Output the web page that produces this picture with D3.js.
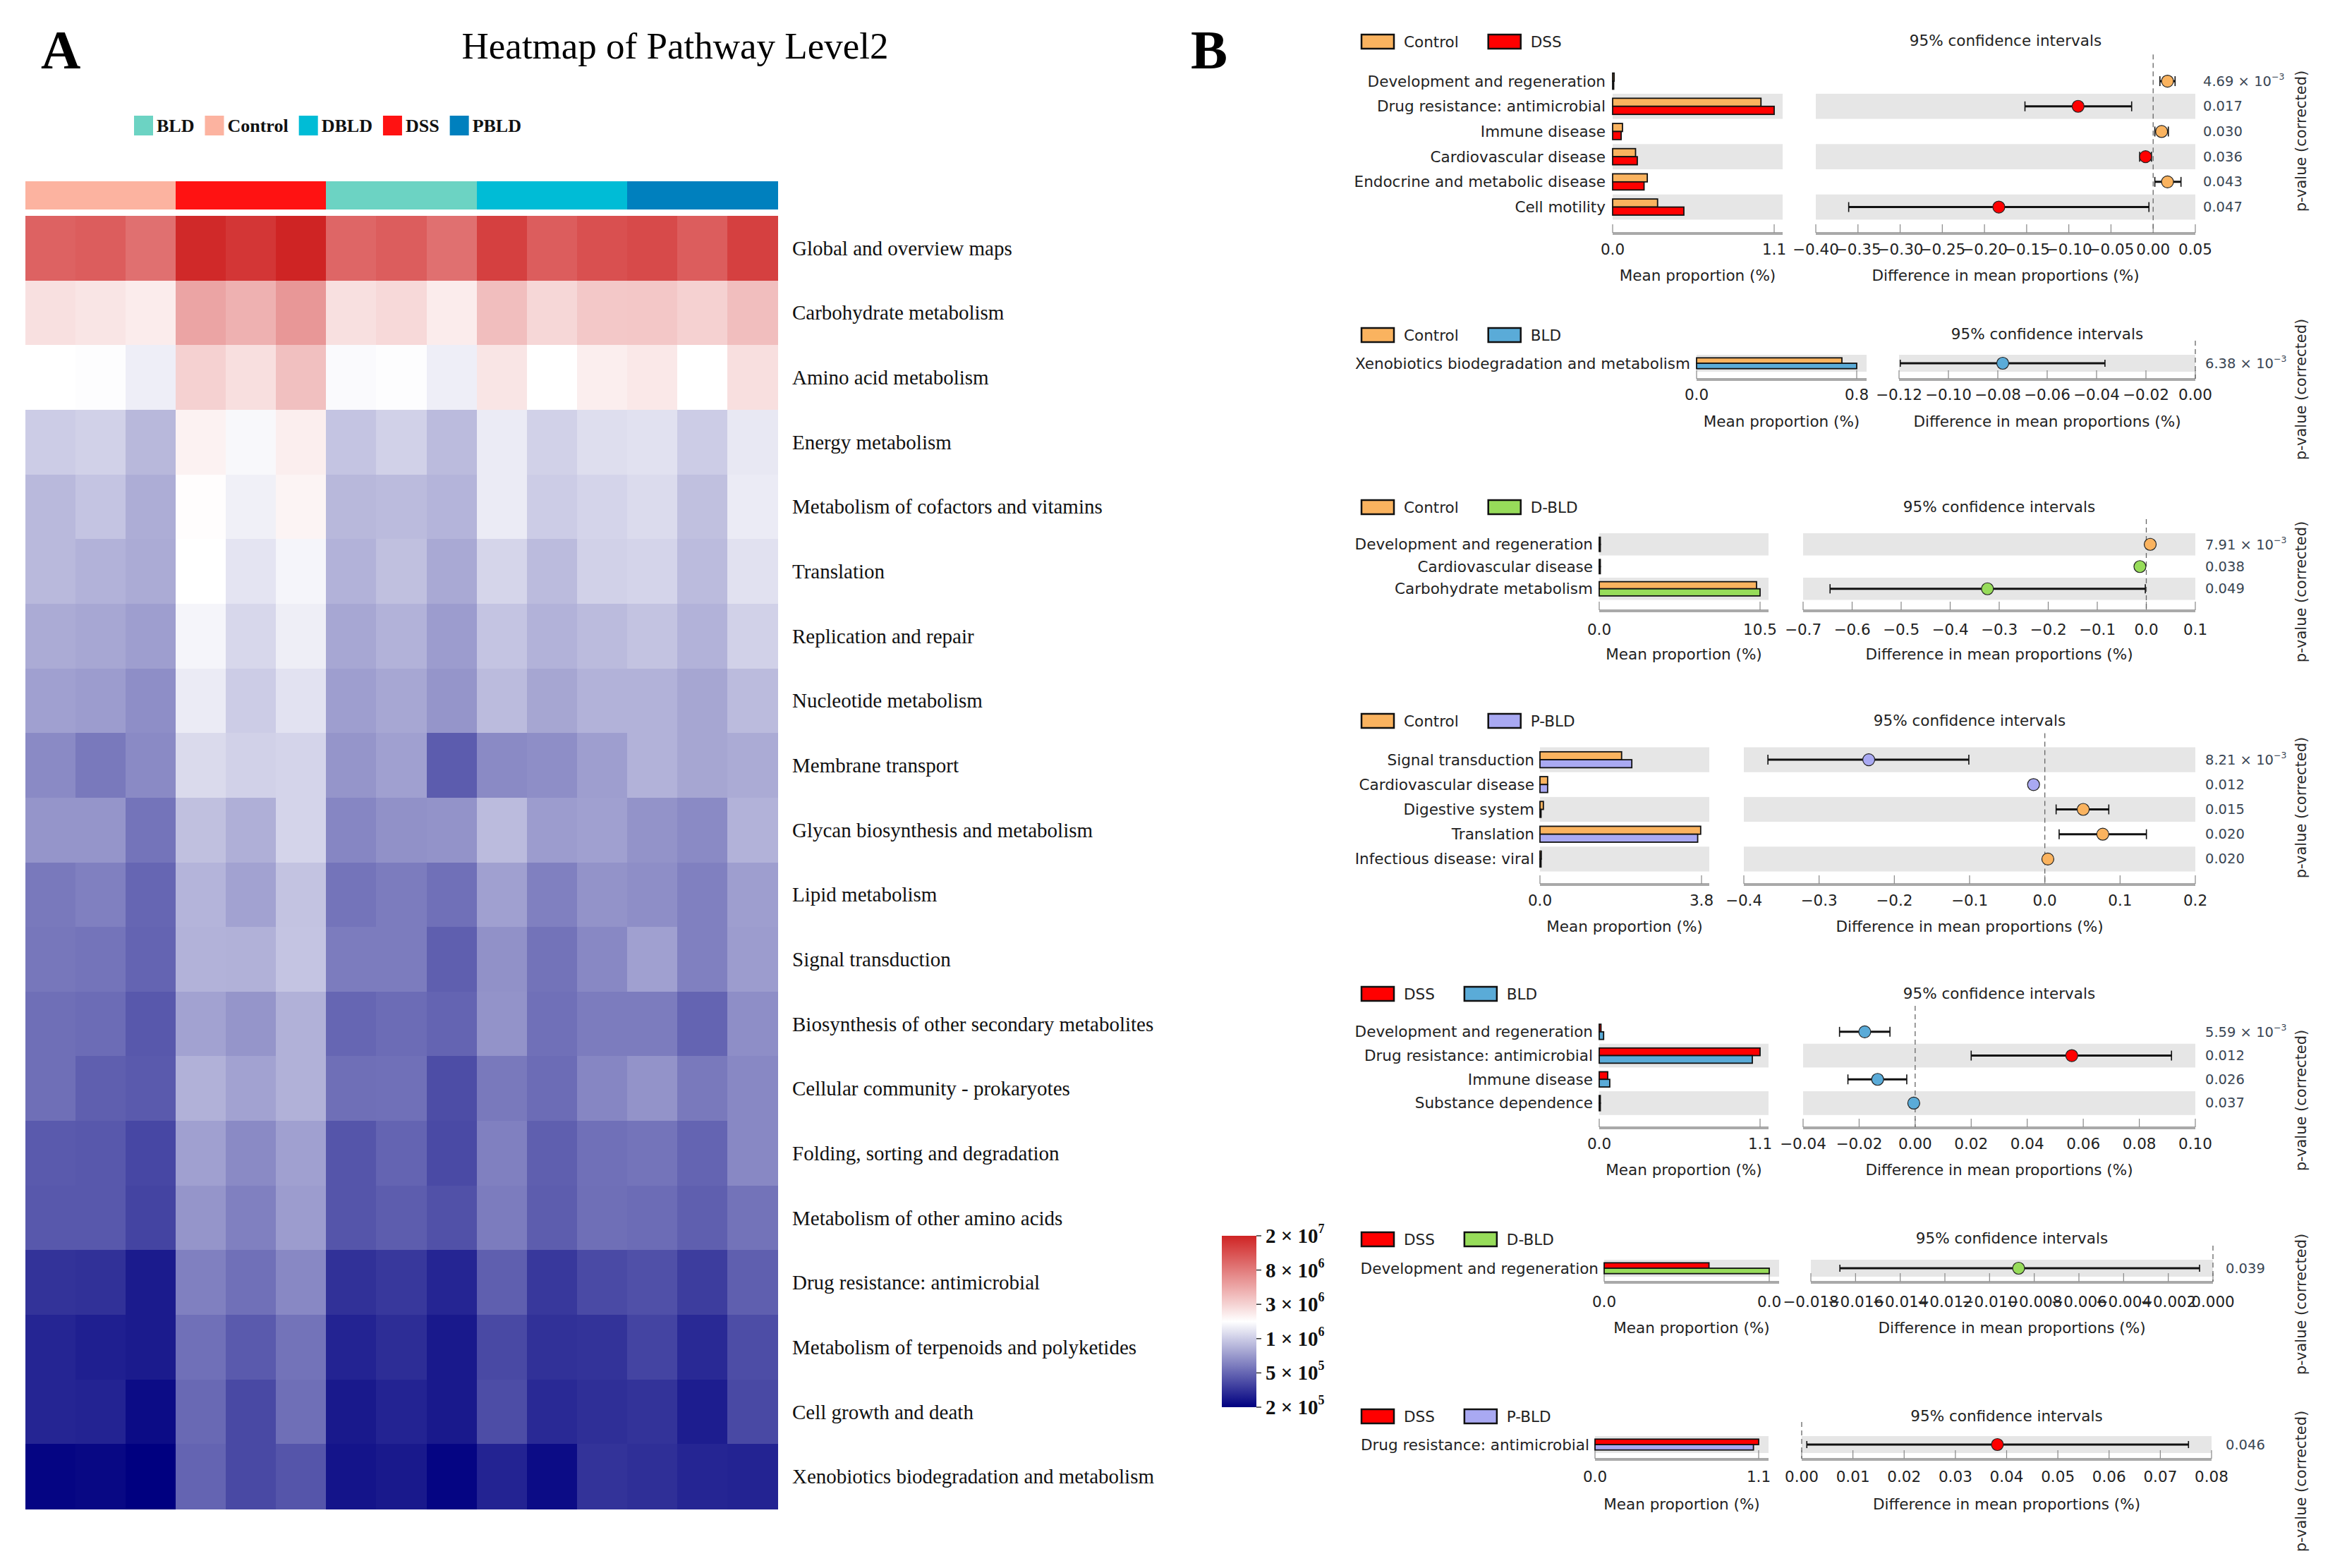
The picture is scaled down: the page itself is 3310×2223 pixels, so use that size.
<!DOCTYPE html>
<html><head><meta charset="utf-8">
<script src="https://cdn.jsdelivr.net/npm/d3@7"></script>
<style>body{margin:0;background:#fff} svg{display:block;background:#fff}</style>
</head><body>
<svg id="c" width="3310" height="2223"></svg>
<script>
// ---------------- DATA: heatmap (panel A) ----------------
const heatRows = ["Global and overview maps","Carbohydrate metabolism","Amino acid metabolism","Energy metabolism",
  "Metabolism of cofactors and vitamins","Translation","Replication and repair","Nucleotide metabolism",
  "Membrane transport","Glycan biosynthesis and metabolism","Lipid metabolism","Signal transduction",
  "Biosynthesis of other secondary metabolites","Cellular community - prokaryotes","Folding, sorting and degradation",
  "Metabolism of other amino acids","Drug resistance: antimicrobial","Metabolism of terpenoids and polyketides",
  "Cell growth and death","Xenobiotics biodegradation and metabolism"];
const heatSamples = ["Control1","Control2","Control3","DSS1","DSS2","DSS3","BLD1","BLD2","BLD3","DBLD1","DBLD2","DBLD3","PBLD1","PBLD2","PBLD3"];
const heatSampleGroup = ["Control","Control","Control","DSS","DSS","DSS","BLD","BLD","BLD","DBLD","DBLD","DBLD","PBLD","PBLD","PBLD"];
const heatGroupNames = ["BLD","Control","DBLD","DSS","PBLD"];
const heatGroupColors = ["#6CD3C3","#FCB3A0","#00BCD6","#FF1212","#0080BE"];
const heatLegendBreaks = [2e5,5e5,1e6,3e6,8e6,2e7];
const heatLegendMantissa = ["2","5","1","3","8","2"];
const heatLegendExponent = ["5","5","6","6","6","7"];
const heatValues = [
 [1.05e7,1.1e7,9.0e6,1.9e7,1.65e7,2.0e7,1.0e7,1.1e7,9.0e6,1.5e7,1.1e7,1.26e7,1.35e7,1.1e7,1.5e7],
 [2.54e6,2.4e6,2.2e6,5.1e6,4.4e6,5.9e6,2.54e6,2.8e6,2.2e6,3.8e6,2.85e6,3.4e6,3.45e6,3.07e6,3.8e6],
 [1.73e6,1.7e6,1.45e6,3.07e6,2.6e6,3.7e6,1.65e6,1.7e6,1.45e6,2.4e6,1.73e6,2.15e6,2.3e6,1.73e6,2.6e6],
 [1.0e6,1.06e6,8.7e5,2.05e6,1.6e6,2.15e6,9.5e5,1.06e6,8.9e5,1.39e6,1.06e6,1.21e6,1.25e6,1.0e6,1.35e6],
 [8.8e5,9.5e5,8.1e5,1.78e6,1.47e6,2.0e6,8.7e5,8.9e5,8.5e5,1.39e6,1.0e6,1.09e6,1.18e6,9.2e5,1.39e6],
 [8.8e5,8.4e5,8.0e5,1.73e6,1.3e6,1.55e6,8.4e5,9.2e5,7.9e5,1.1e6,8.9e5,1.06e6,1.09e6,8.9e5,1.25e6],
 [8.0e5,7.8e5,7.3e5,1.55e6,1.12e6,1.44e6,7.8e5,8.4e5,7.2e5,9.5e5,8.4e5,8.9e5,9.4e5,8.4e5,1.06e6],
 [7.4e5,7.2e5,6.55e5,1.39e6,1.0e6,1.27e6,7.3e5,7.8e5,6.9e5,8.9e5,7.7e5,8.4e5,8.4e5,7.7e5,8.9e5],
 [6.4e5,5.7e5,6.4e5,1.16e6,1.06e6,1.09e6,6.9e5,7.4e5,4.57e5,6.4e5,6.55e5,7.3e5,8.4e5,7.7e5,8.0e5],
 [6.9e5,6.9e5,5.5e5,9.2e5,8.2e5,1.09e6,6.2e5,6.7e5,6.8e5,8.9e5,7.2e5,7.4e5,6.8e5,6.4e5,8.4e5],
 [5.7e5,5.95e5,5.0e5,8.5e5,7.5e5,9.4e5,5.5e5,5.8e5,5.35e5,7.4e5,5.95e5,6.8e5,6.55e5,5.95e5,7.3e5],
 [5.6e5,5.5e5,4.9e5,8.4e5,8.3e5,9.5e5,5.8e5,5.8e5,4.7e5,6.7e5,5.45e5,6.3e5,7.4e5,5.95e5,7.2e5],
 [5.3e5,5.2e5,4.4e5,7.5e5,6.9e5,8.3e5,5.0e5,5.2e5,4.9e5,6.8e5,5.35e5,5.8e5,5.8e5,4.9e5,6.55e5],
 [5.3e5,4.7e5,4.5e5,8.3e5,7.5e5,8.3e5,5.3e5,5.35e5,4.0e5,5.7e5,5.2e5,6.2e5,6.8e5,5.7e5,6.3e5],
 [4.5e5,4.4e5,3.8e5,7.4e5,6.4e5,7.4e5,4.3e5,4.9e5,3.9e5,5.95e5,4.7e5,5.35e5,5.5e5,4.9e5,6.3e5],
 [4.4e5,4.4e5,3.7e5,6.9e5,5.95e5,7.2e5,4.3e5,4.6e5,4.15e5,5.8e5,4.6e5,5.3e5,5.2e5,4.7e5,5.45e5],
 [3.16e5,3.1e5,2.55e5,5.95e5,5.35e5,6.3e5,3.1e5,3.3e5,2.8e5,4.7e5,3.3e5,3.9e5,4.1e5,3.45e5,4.7e5],
 [2.8e5,2.65e5,2.55e5,5.35e5,4.5e5,5.45e5,2.75e5,3.0e5,2.5e5,3.85e5,3.1e5,3.16e5,3.7e5,2.9e5,4.0e5],
 [2.8e5,2.75e5,2.23e5,5.1e5,3.85e5,5.3e5,2.5e5,2.75e5,2.5e5,4.0e5,2.9e5,3.05e5,3.16e5,2.6e5,3.85e5],
 [2.1e5,2.15e5,2.0e5,4.9e5,3.85e5,4.3e5,2.4e5,2.5e5,2.1e5,2.75e5,2.23e5,3.16e5,3.05e5,2.8e5,2.75e5]
];

// ---------------- DATA: STAMP extended error bars (panel B) ----------------
const stampGroups = [["Control","DSS"],["Control","BLD"],["Control","D-BLD"],["Control","P-BLD"],["DSS","BLD"],["DSS","D-BLD"],["DSS","P-BLD"]];
const stampGroupNames = ["Control","DSS","BLD","D-BLD","P-BLD"];
const stampGroupColors = ["#FAB35F","#FF0000","#5AABD8","#97DC5A","#A9A9F2"];
const stampFeatures = [
 ["Development and regeneration","Drug resistance: antimicrobial","Immune disease","Cardiovascular disease","Endocrine and metabolic disease","Cell motility"],
 ["Xenobiotics biodegradation and metabolism"],
 ["Development and regeneration","Cardiovascular disease","Carbohydrate metabolism"],
 ["Signal transduction","Cardiovascular disease","Digestive system","Translation","Infectious disease: viral"],
 ["Development and regeneration","Drug resistance: antimicrobial","Immune disease","Substance dependence"],
 ["Development and regeneration"],
 ["Drug resistance: antimicrobial"]];
const stampMeanA = [[0.010,1.01,0.067,0.156,0.236,0.306],[0.726],[0.05,0.04,10.27],[1.92,0.18,0.08,3.78,0.03],[0.012,1.10,0.058,0.005],[0.0254],[1.10]];
const stampMeanB = [[0.005,1.10,0.058,0.168,0.214,0.485],[0.80],[0.05,0.045,10.5],[2.16,0.18,0.02,3.71,0.02],[0.030,1.047,0.072,0.004],[0.040],[1.065]];
const stampDiff = [[0.017,-0.089,0.010,-0.009,0.017,-0.183],[-0.078],[0.008,-0.013,-0.324],[-0.234,-0.015,0.051,0.077,0.004],[-0.018,0.0559,-0.0134,-0.0005],[-0.0087],[0.0382]];
const stampLow = [[0.008,-0.152,0.002,-0.016,0.002,-0.361],[-0.1195],[0.004,-0.017,-0.645],[-0.368,-0.020,0.015,0.019,0.001],[-0.027,0.020,-0.024,-0.001],[-0.0167],[0.001]];
const stampHigh = [[0.026,-0.0255,0.018,-0.002,0.033,-0.005],[-0.0366],[0.012,-0.009,-0.002],[-0.101,-0.010,0.085,0.135,0.007],[-0.009,0.0915,-0.003,0.000],[-0.0006],[0.0755]];
const stampPValues = [[4.69e-3,0.017,0.030,0.036,0.043,0.047],[6.38e-3],[7.91e-3,0.038,0.049],[8.21e-3,0.012,0.015,0.020,0.020],[5.59e-3,0.012,0.026,0.037],[0.039],[0.046]];
const stampBarMax = [1.1,0.8,10.5,3.8,1.1,0.04,1.1];
const stampDiffTicks = [
 [-0.40,-0.35,-0.30,-0.25,-0.20,-0.15,-0.10,-0.05,0.00,0.05],
 [-0.12,-0.10,-0.08,-0.06,-0.04,-0.02,0.00],
 [-0.7,-0.6,-0.5,-0.4,-0.3,-0.2,-0.1,0.0,0.1],
 [-0.4,-0.3,-0.2,-0.1,0.0,0.1,0.2],
 [-0.04,-0.02,0.00,0.02,0.04,0.06,0.08,0.10],
 [-0.018,-0.016,-0.014,-0.012,-0.010,-0.008,-0.006,-0.004,-0.002,0.000],
 [0.00,0.01,0.02,0.03,0.04,0.05,0.06,0.07,0.08]];
const stampTickDecimals = [2,2,1,1,2,3,2];

// ---------------- LAYOUT ----------------
const serif = "'Liberation Serif','Times New Roman',serif";
const sans = "'DejaVu Sans',sans-serif";
const FS = 21.5;
const svg = d3.select("#c");

const stampLayout = [
 {legY:59,  titleY:57,  rowTop:97.2, rowH:35.7, labelR:2276, bx0:2286, bxT:2515, bx1:2527, cx0:2574, cx1:3112, axisY:330, tickY:353, atY:390, pX:3123, vY:200},
 {legY:475, titleY:473, rowTop:503,  rowH:24,   labelR:2396, bx0:2405, bxT:2632, bx1:2646, cx0:2692, cx1:3112, axisY:537, tickY:559, atY:597, pX:3126, vY:552},
 {legY:719, titleY:718, rowTop:756,  rowH:31.5, labelR:2258, bx0:2267, bxT:2495, bx1:2507, cx0:2556, cx1:3112, axisY:865, tickY:892, atY:927, pX:3126, vY:839},
 {legY:1022,titleY:1021,rowTop:1059.5,rowH:35.2,labelR:2175, bx0:2183, bxT:2412, bx1:2423, cx0:2472, cx1:3112, axisY:1253,tickY:1276,atY:1313,pX:3126, vY:1145},
 {legY:1409,titleY:1408,rowTop:1446, rowH:33.7, labelR:2258, bx0:2267, bxT:2495, bx1:2507, cx0:2556, cx1:3112, axisY:1598,tickY:1621,atY:1658,pX:3126, vY:1560},
 {legY:1757,titleY:1755,rowTop:1786, rowH:24,   labelR:2266, bx0:2274, bxT:2508, bx1:2522, cx0:2567, cx1:3137, axisY:1817,tickY:1845,atY:1882,pX:3155, vY:1849},
 {legY:2008,titleY:2007,rowTop:2036, rowH:24,   labelR:2253, bx0:2261, bxT:2493, bx1:2507, cx0:2554, cx1:3135, axisY:2068,tickY:2093,atY:2132,pX:3155, vY:2100}
];

// ---------------- PANEL LABELS ----------------
svg.append("text").attr("x",58).attr("y",97).attr("font-family",serif).attr("font-weight","bold").attr("font-size",78).text("A");
svg.append("text").attr("x",1688).attr("y",97).attr("font-family",serif).attr("font-weight","bold").attr("font-size",78).text("B");
svg.append("text").attr("x",957).attr("y",83).attr("text-anchor","middle").attr("font-family",serif).attr("font-size",53).text("Heatmap of Pathway Level2");

// ---------------- HEATMAP ----------------
const hx = d3.scaleBand().domain(heatSamples).range([36,1102]);
const hy = d3.scaleBand().domain(heatRows).range([306,2139]);
const tScale = d3.scaleLog().domain(heatLegendBreaks).range([0,0.2,0.4,0.6,0.8,1]).clamp(true);
const ramp = d3.scaleLinear().domain([0,0.5,1]).range(["#000080","#ffffff","#CF2424"]);
const heatColor = v => ramp(tScale(v));
const groupColor = d3.scaleOrdinal().domain(heatGroupNames).range(heatGroupColors);

const gh = svg.append("g").attr("shape-rendering","crispEdges");
heatRows.forEach((r,i)=>{
  heatValues[i].forEach((v,j)=>{
    gh.append("rect").attr("x",hx(heatSamples[j])).attr("y",hy(r))
      .attr("width",hx.bandwidth()+0.6).attr("height",hy.bandwidth()+0.6).attr("fill",heatColor(v));
  });
});
heatSamples.forEach((s,j)=>{
  gh.append("rect").attr("x",hx(s)).attr("y",257).attr("width",hx.bandwidth()+0.6).attr("height",40)
    .attr("fill",groupColor(heatSampleGroup[j]));
});
svg.append("g").selectAll("text").data(heatRows).join("text")
  .attr("x",1123).attr("y",d=>hy(d)+hy.bandwidth()/2).attr("dominant-baseline","central")
  .attr("font-family",serif).attr("font-size",29).attr("fill","#111").text(d=>d);

{
  let x = 190;
  heatGroupNames.forEach((g,i)=>{
    svg.append("rect").attr("x",x).attr("y",164).attr("width",27).attr("height",28).attr("fill",heatGroupColors[i]);
    const t = svg.append("text").attr("x",x+32).attr("y",187).attr("font-family",serif).attr("font-weight","bold")
      .attr("font-size",26).attr("fill","#111").text(g);
    x = x + 32 + t.node().getComputedTextLength() + 15;
  });
}

{
  const defs = svg.append("defs");
  const grad = defs.append("linearGradient").attr("id","hg").attr("x1",0).attr("y1",1).attr("x2",0).attr("y2",0);
  d3.range(0,1.0001,0.05).forEach(t=>grad.append("stop").attr("offset",t).attr("stop-color",ramp(t)));
  const ly = d3.scaleLinear().domain([0,1]).range([1995,1752]);
  svg.append("rect").attr("x",1732).attr("y",1752).attr("width",49).attr("height",243).attr("fill","url(#hg)");
  heatLegendBreaks.forEach((b,i)=>{
    const y = ly(tScale(b));
    svg.append("line").attr("x1",1781).attr("x2",1788).attr("y1",y).attr("y2",y).attr("stroke","#333").attr("stroke-width",1.5);
    const t = svg.append("text").attr("x",1794).attr("y",y).attr("dominant-baseline","central")
      .attr("font-family",serif).attr("font-weight","bold").attr("font-size",29).attr("fill","#111");
    t.append("tspan").text(heatLegendMantissa[i]+" \u00d7 10");
    t.append("tspan").attr("dy",-10).attr("font-size",18).text(heatLegendExponent[i]);
  });
}

// ---------------- STAMP PANELS ----------------
const stampColor = d3.scaleOrdinal().domain(stampGroupNames).range(stampGroupColors);
const txt = (x,y,s,opts={}) => svg.append("text").attr("x",x).attr("y",y).attr("font-family",sans).attr("font-size",opts.size||FS)
    .attr("fill",opts.fill||"#222").attr("text-anchor",opts.anchor||"start").attr("dominant-baseline","central").text(s);

stampGroups.forEach((grp,k)=>{
  const L = stampLayout[k];
  const feats = stampFeatures[k];
  const n = feats.length;
  const y = d3.scaleBand().domain(feats).range([L.rowTop, L.rowTop + n*L.rowH]);
  const xb = d3.scaleLinear().domain([0, stampBarMax[k]]).range([L.bx0, L.bxT]);
  const ticks = stampDiffTicks[k];
  const xc = d3.scaleLinear().domain([ticks[0], ticks[ticks.length-1]]).range([L.cx0, L.cx1]);
  const g = svg.append("g");

  g.append("rect").attr("x",1930).attr("y",L.legY-10).attr("width",46).attr("height",20)
    .attr("fill",stampColor(grp[0])).attr("stroke","#111").attr("stroke-width",2.5);
  const t1 = txt(1990, L.legY, grp[0]);
  const x2 = 1990 + t1.node().getComputedTextLength() + 42;
  g.append("rect").attr("x",x2).attr("y",L.legY-10).attr("width",46).attr("height",20)
    .attr("fill",stampColor(grp[1])).attr("stroke","#111").attr("stroke-width",2.5);
  txt(x2+60, L.legY, grp[1]);

  txt((L.cx0+L.cx1)/2, L.titleY, "95% confidence intervals", {anchor:"middle"});

  feats.forEach((f,i)=>{
    if ((n-1-i)%2===0) {
      g.append("rect").attr("x",L.bx0).attr("y",y(f)).attr("width",L.bx1-L.bx0).attr("height",y.bandwidth()).attr("fill","#e6e6e6");
      g.append("rect").attr("x",L.cx0).attr("y",y(f)).attr("width",L.cx1-L.cx0).attr("height",y.bandwidth()).attr("fill","#e6e6e6");
    }
  });

  [[L.bx0,L.bx1],[L.cx0,L.cx1]].forEach(([a,b])=>{
    g.append("rect").attr("x",a).attr("y",L.axisY-1).attr("width",b-a).attr("height",4).attr("fill","#a9a9a9");
  });
  [0, stampBarMax[k]].forEach(v=>{
    g.append("line").attr("x1",xb(v)).attr("x2",xb(v)).attr("y1",L.axisY-12).attr("y2",L.axisY).attr("stroke","#888").attr("stroke-width",1.2);
  });
  txt(xb(0), L.tickY, "0.0", {anchor:"middle"});
  txt(xb(stampBarMax[k]), L.tickY, d3.format(".1f")(stampBarMax[k]), {anchor:"middle"});
  const fmt = d3.format("."+stampTickDecimals[k]+"f");
  ticks.forEach(v=>{
    g.append("line").attr("x1",xc(v)).attr("x2",xc(v)).attr("y1",L.axisY-12).attr("y2",L.axisY).attr("stroke","#888").attr("stroke-width",1.2);
    txt(xc(v), L.tickY, fmt(v), {anchor:"middle"});
  });
  txt((L.bx0+L.bx1)/2, L.atY, "Mean proportion (%)", {anchor:"middle"});
  txt((L.cx0+L.cx1)/2, L.atY, "Difference in mean proportions (%)", {anchor:"middle"});

  g.append("line").attr("x1",xc(0)).attr("x2",xc(0)).attr("y1",L.rowTop-20).attr("y2",L.axisY)
    .attr("stroke","#666").attr("stroke-width",1.3).attr("stroke-dasharray","7,5");

  const bh = y.bandwidth()*0.32;
  feats.forEach((f,i)=>{
    const cy = y(f) + y.bandwidth()/2;
    txt(L.labelR, cy, f, {anchor:"end"});
    g.append("rect").attr("x",xb(0)).attr("y",cy-bh).attr("width",Math.max(1.5,xb(stampMeanA[k][i])-xb(0))).attr("height",bh)
      .attr("fill",stampColor(grp[0])).attr("stroke","#111").attr("stroke-width",1.8);
    g.append("rect").attr("x",xb(0)).attr("y",cy).attr("width",Math.max(1.5,xb(stampMeanB[k][i])-xb(0))).attr("height",bh)
      .attr("fill",stampColor(grp[1])).attr("stroke","#111").attr("stroke-width",1.8);
    const lo = xc(stampLow[k][i]), hi = xc(stampHigh[k][i]);
    const capH = Math.min(14, y.bandwidth()*0.42);
    g.append("line").attr("x1",lo).attr("x2",hi).attr("y1",cy).attr("y2",cy).attr("stroke","#111").attr("stroke-width",3);
    [lo,hi].forEach(xx=>g.append("line").attr("x1",xx).attr("x2",xx).attr("y1",cy-capH/2).attr("y2",cy+capH/2).attr("stroke","#111").attr("stroke-width",1.6));
    const d = stampDiff[k][i];
    g.append("circle").attr("cx",xc(d)).attr("cy",cy).attr("r",8.5)
      .attr("fill",stampColor(d>0?grp[0]:grp[1])).attr("stroke","#222").attr("stroke-width",1.2);
    const p = stampPValues[k][i];
    const pt = svg.append("text").attr("x",L.pX).attr("y",cy).attr("dominant-baseline","central")
      .attr("font-family",sans).attr("font-size",19.5).attr("fill","#3a4654");
    if (p < 0.01) {
      const e = Math.floor(Math.log10(p));
      const m = p/Math.pow(10,e);
      pt.append("tspan").text(m.toFixed(2)+" \u00d7 10");
      pt.append("tspan").attr("dy",-7).attr("font-size",12.5).text("\u2212"+(-e));
    } else {
      pt.text(p.toFixed(3));
    }
  });

  svg.append("text").attr("transform",`translate(3262,${L.vY}) rotate(-90)`).attr("text-anchor","middle")
    .attr("dominant-baseline","central").attr("font-family",sans).attr("font-size",21).attr("fill","#2a2a2a")
    .text("p-value (corrected)");
});
</script>
</body></html>
